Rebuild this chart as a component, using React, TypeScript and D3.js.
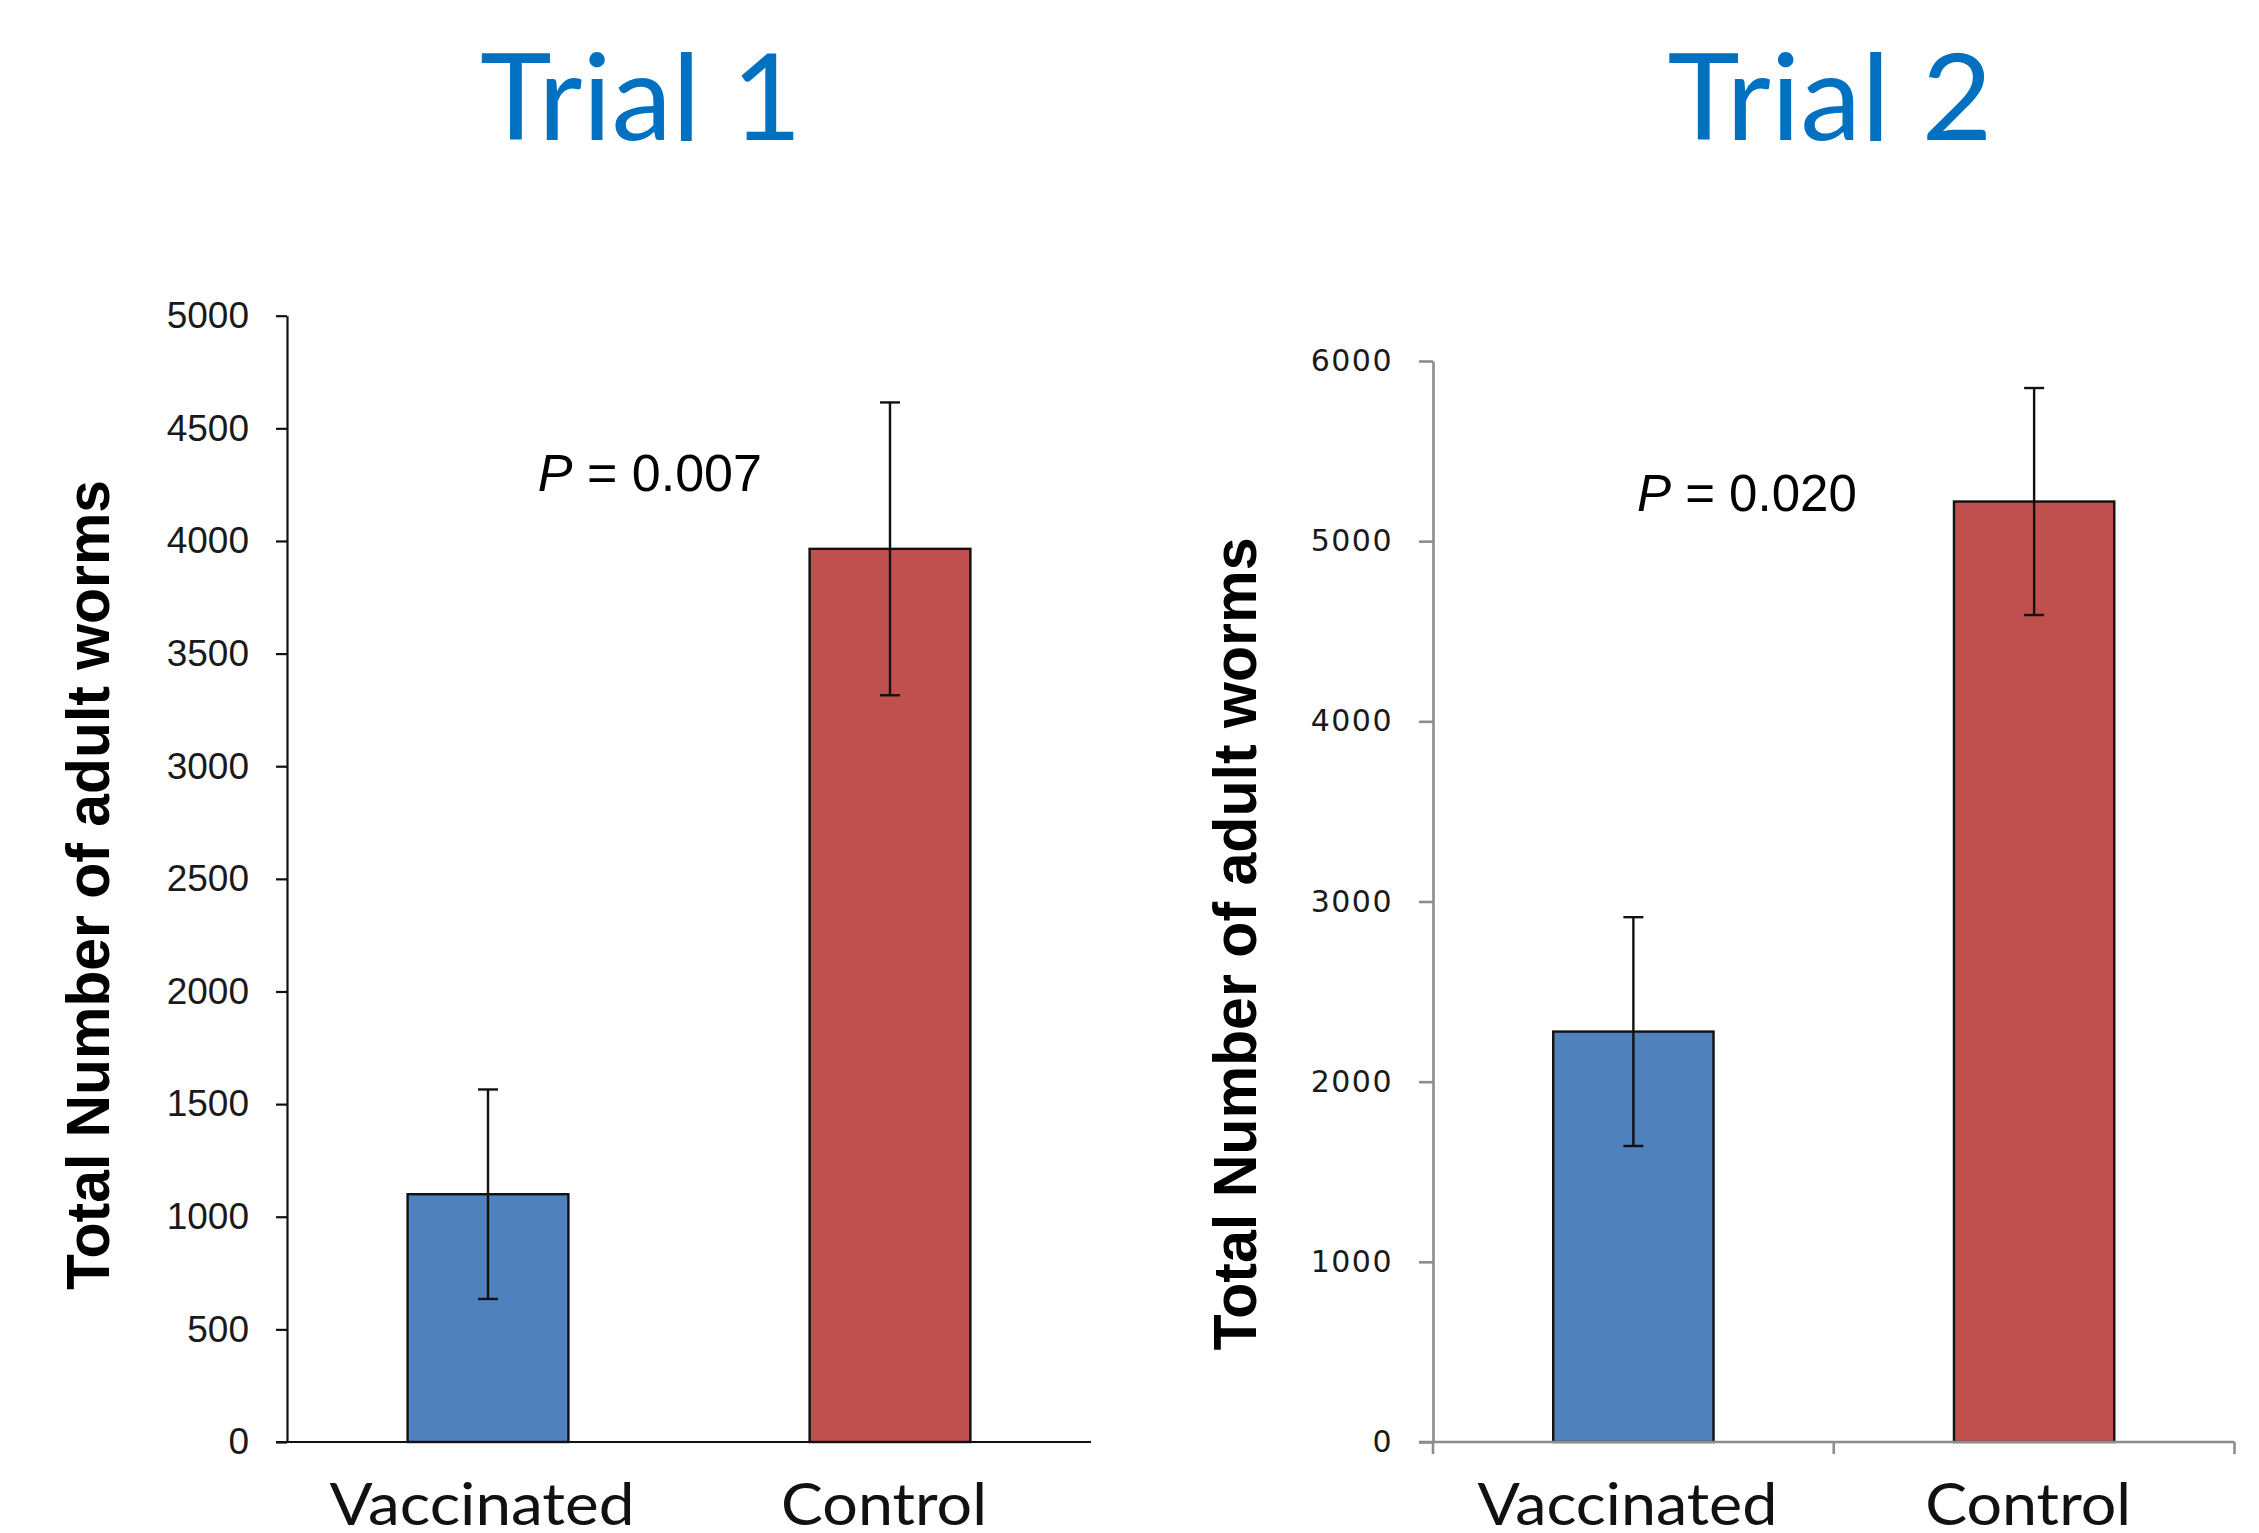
import React, { useEffect, useRef } from "react";
import * as d3 from "d3";

const categories = ["Vaccinated", "Control"];

const trial1Means = [1100, 3965];
const trial1Errors = [465, 650];
const trial1Ticks = [0, 500, 1000, 1500, 2000, 2500, 3000, 3500, 4000, 4500, 5000];

const trial2Means = [2278, 5220];
const trial2Errors = [635, 630];
const trial2Ticks = [0, 1000, 2000, 3000, 4000, 5000, 6000];

const barColors = ["#4F81BD", "#C0504D"];
const yTitle = "Total Number of adult worms";

const W = 2259;
const H = 1533;

type Panel = {
  title: string;
  pText: string;
  means: number[];
  errors: number[];
  ticks: number[];
  yMax: number;
  left: number;
  right: number;
  top: number;
  bottom: number;
  axisColor: string;
  axisWidth: number;
  tickFont: string;
  tickSize: number;
  tickLen: number;
  tickPad: number;
  tickSpacing: number;
  boundaryTicks: boolean;
  pFrac: number;
  pValue: number;
  pSize: number;
  titleX: number;
  titleLen: number;
  yTitleX: number;
  yTitleY: number;
  yTitleLen: number;
  catLens: number[];
};

const panels: Panel[] = [
  {
    title: "Trial 1",
    pText: "0.007",
    means: trial1Means,
    errors: trial1Errors,
    ticks: trial1Ticks,
    yMax: 5000,
    left: 287,
    right: 1091,
    top: 315.7,
    bottom: 1442,
    axisColor: "#111",
    axisWidth: 2.2,
    tickFont: "'Liberation Sans', Arial, sans-serif",
    tickSize: 37,
    tickLen: 11,
    tickPad: 27,
    tickSpacing: 0,
    boundaryTicks: false,
    pFrac: 0.312,
    pValue: 4222,
    pSize: 52,
    titleX: 641,
    titleLen: 322,
    yTitleX: 109,
    yTitleY: 885,
    yTitleLen: 810,
    catLens: [305, 206],
  },
  {
    title: "Trial 2",
    pText: "0.020",
    means: trial2Means,
    errors: trial2Errors,
    ticks: trial2Ticks,
    yMax: 6000,
    left: 1433,
    right: 2234.5,
    top: 361,
    bottom: 1442,
    axisColor: "#8c8c8c",
    axisWidth: 2.6,
    tickFont: "'DejaVu Sans', Verdana, sans-serif",
    tickSize: 30,
    tickLen: 14,
    tickPad: 26,
    tickSpacing: 1.5,
    boundaryTicks: true,
    pFrac: 0.2545,
    pValue: 5167,
    pSize: 51,
    titleX: 1830,
    titleLen: 325,
    yTitleX: 1256,
    yTitleY: 944,
    yTitleLen: 813,
    catLens: [300, 206],
  },
];

function drawPanel(svg: d3.Selection<SVGSVGElement, unknown, null, undefined>, p: Panel) {
  const g = svg.append("g");

  const x = d3
    .scaleBand<string>()
    .domain(categories)
    .range([p.left, p.right])
    .paddingInner(0.6)
    .paddingOuter(0.3);

  const y = d3.scaleLinear().domain([0, p.yMax]).range([p.bottom, p.top]);

  // title
  g.append("text")
    .attr("x", p.titleX)
    .attr("y", 139.5)
    .attr("text-anchor", "middle")
    .attr("font-family", "Lato, 'Open Sans', sans-serif")
    .attr("font-size", 120)
    .attr("fill", "#0070C0")
    .attr("textLength", p.titleLen)
    .attr("lengthAdjust", "spacingAndGlyphs")
    .text(p.title);

  // bars
  g.selectAll("rect.bar")
    .data(p.means)
    .join("rect")
    .attr("class", "bar")
    .attr("x", (_, i) => x(categories[i]) as number)
    .attr("y", (d) => y(d))
    .attr("width", x.bandwidth())
    .attr("height", (d) => y(0) - y(d))
    .attr("fill", (_, i) => barColors[i])
    .attr("stroke", "#111")
    .attr("stroke-width", 2.4);

  // error bars
  const cx = (i: number) => (x(categories[i]) as number) + x.bandwidth() / 2;
  p.means.forEach((m, i) => {
    const hi = y(m + p.errors[i]);
    const lo = y(m - p.errors[i]);
    g.append("line")
      .attr("x1", cx(i)).attr("x2", cx(i))
      .attr("y1", hi).attr("y2", lo)
      .attr("stroke", "#111").attr("stroke-width", 2.4);
    [hi, lo].forEach((yy) =>
      g.append("line")
        .attr("x1", cx(i) - 10).attr("x2", cx(i) + 10)
        .attr("y1", yy).attr("y2", yy)
        .attr("stroke", "#111").attr("stroke-width", 2.4)
    );
  });

  // y axis
  const yAxis = g
    .append("g")
    .attr("transform", `translate(${p.left},0)`)
    .call(
      d3.axisLeft(y)
        .tickValues(p.ticks)
        .tickSize(p.tickLen)
        .tickSizeOuter(0)
        .tickPadding(p.tickPad)
        .tickFormat(d3.format("d"))
    );
  yAxis.select(".domain").attr("stroke", p.axisColor).attr("stroke-width", p.axisWidth);
  yAxis.selectAll(".tick line").attr("stroke", p.axisColor).attr("stroke-width", p.axisWidth);
  yAxis
    .selectAll(".tick text")
    .attr("font-family", p.tickFont)
    .attr("font-size", p.tickSize)
    .attr("letter-spacing", p.tickSpacing)
    .attr("fill", "#1a1a1a");

  // x axis
  g.append("line")
    .attr("x1", p.left - p.tickLen)
    .attr("x2", p.right)
    .attr("y1", y(0))
    .attr("y2", y(0))
    .attr("stroke", p.axisColor)
    .attr("stroke-width", p.axisWidth);

  if (p.boundaryTicks) {
    const bounds = [
      p.left,
      ...categories.map((c) => (x(c) as number) + x.bandwidth() + (x.step() * x.paddingInner()) / 2),
    ];
    g.selectAll("line.bt")
      .data(bounds)
      .join("line")
      .attr("class", "bt")
      .attr("x1", (d) => d).attr("x2", (d) => d)
      .attr("y1", y(0)).attr("y2", y(0) + 12)
      .attr("stroke", p.axisColor)
      .attr("stroke-width", p.axisWidth);
  }

  // category labels
  g.selectAll("text.cat")
    .data(categories)
    .join("text")
    .attr("class", "cat")
    .attr("x", (d) => (x(d) as number) + x.bandwidth() / 2 - 6)
    .attr("y", 1525)
    .attr("text-anchor", "middle")
    .attr("font-family", "Lato, 'Open Sans', sans-serif")
    .attr("font-size", 58)
    .attr("fill", "#111")
    .attr("textLength", (_, i) => p.catLens[i])
    .attr("lengthAdjust", "spacingAndGlyphs")
    .text((d) => d);

  // y title
  g.append("text")
    .attr("transform", `translate(${p.yTitleX},${p.yTitleY}) rotate(-90)`)
    .attr("text-anchor", "middle")
    .attr("font-family", "'Liberation Sans', Arial, sans-serif")
    .attr("font-weight", "bold")
    .attr("font-size", 62)
    .attr("fill", "#000")
    .attr("textLength", p.yTitleLen)
    .attr("lengthAdjust", "spacingAndGlyphs")
    .text(yTitle);

  // p value
  const pt = g
    .append("text")
    .attr("x", p.left + p.pFrac * (p.right - p.left))
    .attr("y", y(p.pValue))
    .attr("font-family", "'Liberation Sans', Arial, sans-serif")
    .attr("font-size", p.pSize)
    .attr("fill", "#000");
  pt.append("tspan").attr("font-style", "italic").text("P");
  pt.append("tspan").text(` = ${p.pText}`);
}

export default function App() {
  const ref = useRef<SVGSVGElement>(null);

  useEffect(() => {
    const svg = d3.select(ref.current as SVGSVGElement);
    svg.selectAll("*").remove();
    svg.append("rect").attr("width", W).attr("height", H).attr("fill", "#fff");
    panels.forEach((p) => drawPanel(svg, p));
  }, []);

  return (
    <svg
      ref={ref}
      width={W}
      height={H}
      style={{ position: "absolute", left: 0, top: 0 }}
    />
  );
}
